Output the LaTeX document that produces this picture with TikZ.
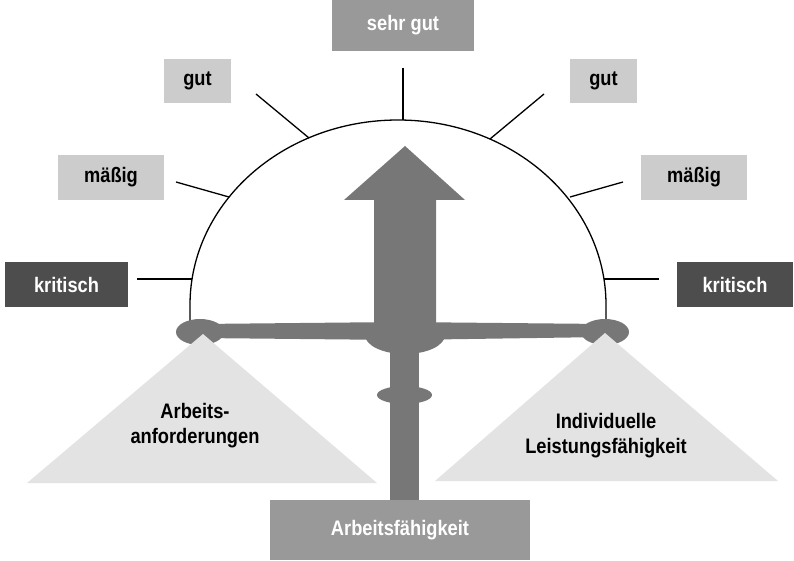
\documentclass[tikz,border=0pt]{standalone}
\usepackage{fontspec}
\setmainfont{Liberation Sans}[FakeStretch=0.87]
\usetikzlibrary{positioning}
\definecolor{ScaleGray}{RGB}{119,119,119}
\definecolor{PanGray}{RGB}{227,227,227}
\definecolor{LevelLight}{RGB}{204,204,204}
\definecolor{LevelMid}{RGB}{153,153,153}
\definecolor{LevelDark}{RGB}{77,77,77}
\newcommand{\levelbox}[5]{%
  \node[#4,minimum width=#3pt] (#1) at #2 {#5};}

\begin{document}
\begin{tikzpicture}[x=1pt,y=-1pt,
  every node/.style={font=\fontsize{21}{25}\selectfont\bfseries,inner sep=0pt},
  levellight/.style={fill=LevelLight,text=black,minimum height=44pt},
  levelmid/.style={fill=LevelMid,text=white,minimum height=51pt},
  leveldark/.style={fill=LevelDark,text=white,minimum height=45pt},
  pantext/.style={align=center,text=black},
  tickline/.style={black,line width=1.3pt}]
  \useasboundingbox (0,0) rectangle (794,561);
  \draw[tickline] (190,322) -- (190,305)
    arc[start angle=180,end angle=360,x radius=208,y radius=185] -- (606,322);
  \coordinate (oS) at (403,68);  \coordinate (aS) at (403,120);
  \coordinate (oGL) at (256,94); \coordinate (aGL) at (309,138);
  \coordinate (oGR) at (544,94); \coordinate (aGR) at (490,139);
  \coordinate (oML) at (176,182); \coordinate (aML) at (229,197);
  \coordinate (oMR) at (623,182); \coordinate (aMR) at (570,197);
  \coordinate (oKL) at (137,279); \coordinate (aKL) at (192,279);
  \coordinate (oKR) at (659,279); \coordinate (aKR) at (604,279);
  \foreach \t in {S,GL,GR,ML,MR,KL,KR}
    \draw[tickline] (o\t) -- (a\t);
  \fill[ScaleGray] (200,324) -- (400,322) -- (605,324) -- (605,337)
    -- (400,340) -- (200,338) -- cycle;
  \fill[ScaleGray] (200,332) ellipse[x radius=24,y radius=13];
  \fill[ScaleGray] (605,332) ellipse[x radius=24,y radius=13];
  \fill[ScaleGray] (390,335) rectangle (419,500);
  \fill[ScaleGray] (405,335) ellipse[x radius=40,y radius=19];
  \fill[ScaleGray] (404.5,395) ellipse[x radius=27.5,y radius=9];
  \fill[ScaleGray] (405,146) -- (465,200) -- (436,200) -- (436,335)
    -- (374,335) -- (374,200) -- (344,200) -- cycle;
  \fill[PanGray] (203,334) -- (377,483) -- (27,483) -- cycle;
  \fill[PanGray] (605,333) -- (778,481) -- (435,481) -- cycle;
  \node[pantext] (demands) at (195,426) {Arbeits-\\anforderungen};
  \node[pantext] (capacity) at (606,436) {Individuelle\\Leistungsfähigkeit};
  \levelbox{sehrgut}{(403,25.5)}{142}{levelmid}{sehr gut}
  \levelbox{gutL}{(197.5,81)}{67}{levellight}{gut}
  \levelbox{gutR}{(603.5,81)}{67}{levellight}{gut}
  \levelbox{maessigL}{(111,177.5)}{106}{levellight,minimum height=45pt}{mäßig}
  \levelbox{maessigR}{(694,177.5)}{106}{levellight,minimum height=45pt}{mäßig}
  \levelbox{kritL}{(66.5,284.5)}{123}{leveldark}{kritisch}
  \levelbox{kritR}{(735,284.5)}{116}{leveldark}{kritisch}
  \levelbox{abf}{(400,530)}{260}{levelmid,minimum height=60pt}{Arbeitsfähigkeit}
\end{tikzpicture}
\end{document}
